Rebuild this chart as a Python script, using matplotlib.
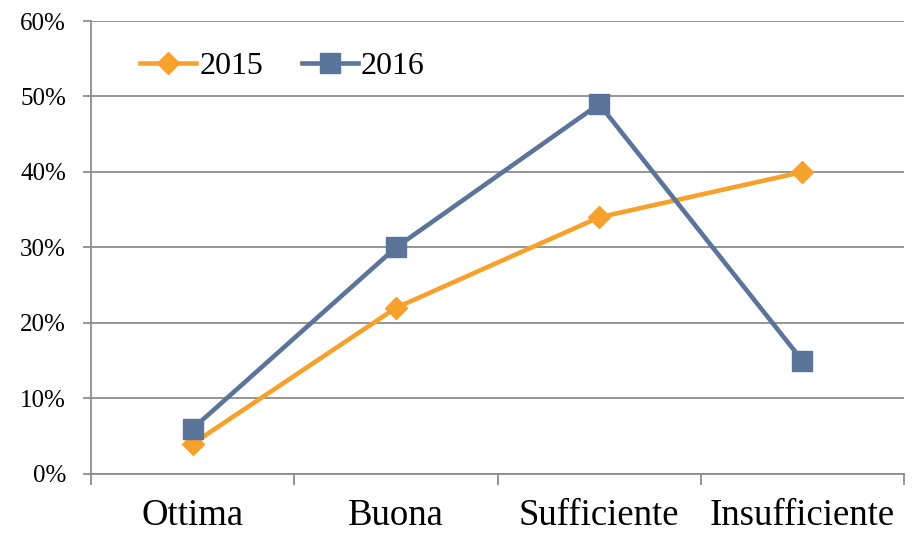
import matplotlib
matplotlib.use("Agg")
import matplotlib.pyplot as plt
from matplotlib.ticker import FuncFormatter

categories = ["Ottima", "Buona", "Sufficiente", "Insufficiente"]
series_2015 = [4, 22, 34, 40]
series_2016 = [6, 30, 49, 15]
y_ticks = [0, 10, 20, 30, 40, 50, 60]

plt.rcParams['font.family'] = ['Liberation Serif', 'DejaVu Serif']

fig = plt.figure(figsize=(9.13, 5.33), dpi=100)
ax = fig.add_axes([0.0997, 0.1107, 0.8905, 0.8499])

x = list(range(len(categories)))
orange = "#F7A12D"
blue = "#5B7499"
ax.plot(x, series_2015, color=orange, lw=3.3, marker="D", markersize=11,
        label="2015", zorder=3)
ax.plot(x, series_2016, color=blue, lw=3.3, marker="s", markersize=14,
        label="2016", zorder=4)

ax.set_xlim(-0.5, len(categories) - 0.5)
ax.set_ylim(0, 60)
ax.set_yticks(y_ticks)
ax.yaxis.set_major_formatter(FuncFormatter(lambda v, p: f"{int(v)}%"))
ax.yaxis.grid(True, color="#8C8C8C", lw=1.3)
ax.set_axisbelow(True)

ax.set_xticks(x)
ax.set_xticklabels(categories, fontsize=26.5)
ax.set_xticks([i - 0.5 for i in range(len(categories) + 1)], minor=True)
ax.tick_params(axis="x", which="major", length=0, pad=18)
ax.tick_params(axis="x", which="minor", length=8, width=1.3, color="#8C8C8C")
ax.tick_params(axis="y", length=6, width=1.3, color="#8C8C8C", labelsize=18, pad=12)

for s in ["top", "right"]:
    ax.spines[s].set_visible(False)
for s in ["left", "bottom"]:
    ax.spines[s].set_color("#8C8C8C")
    ax.spines[s].set_linewidth(1.3)

ax.legend(loc="upper left", bbox_to_anchor=(0.045, 0.96), ncol=2, frameon=False,
          fontsize=23, handlelength=1.75, handletextpad=0.1, columnspacing=1.2,
          borderaxespad=0)

fig.savefig("out.png", dpi=100)
